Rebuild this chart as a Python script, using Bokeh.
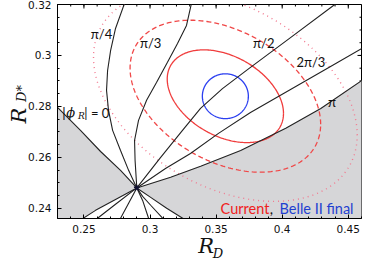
import numpy as np
from bokeh.plotting import figure
from bokeh.models import Range1d, FixedTicker, Label, LinearAxis
from bokeh.embed import file_html
from bokeh.resources import INLINE

# ---------------- data ----------------
x_lim = [0.23, 0.46]
y_lim = [0.236, 0.32]
x_ticks = [0.25, 0.30, 0.35, 0.40, 0.45]
x_tick_labels = ["0.25", "0.3", "0.35", "0.4", "0.45"]
y_ticks = [0.24, 0.26, 0.28, 0.30, 0.32]
y_tick_labels = ["0.24", "0.26", "0.28", "0.3", "0.32"]

current_center = [0.357, 0.284]
current_sigma = [0.029, 0.012]
current_rho = -0.37
contour_dchi2 = [2.30, 6.18, 11.83]
belle2_half = [0.0174, 0.0088]

sm_point = [0.290, 0.248]

# branches of the |phi_R| curves, read outward from the SM point
phi0_up_x = [0.2777, 0.2626, 0.2474, 0.2300, 0.2285]
phi0_up_y = [0.2549, 0.2623, 0.2706, 0.2796, 0.2804]
phi0_dn_x = [0.3005, 0.3126, 0.3247, 0.3275]
phi0_dn_y = [0.2443, 0.2400, 0.2361, 0.2350]

pi4_up_x = [0.2838, 0.2777, 0.2717, 0.2686, 0.2671, 0.2679, 0.2702, 0.2739, 0.2815]
pi4_up_y = [0.2549, 0.2627, 0.2706, 0.2784, 0.2863, 0.2941, 0.3020, 0.3106, 0.3216]
pi4_dn_x = [0.2944, 0.3005, 0.3095, 0.3105]
pi4_dn_y = [0.2447, 0.2412, 0.2361, 0.2350]

pi3_up_x = [0.2887, 0.2883, 0.2913, 0.2974, 0.3049, 0.3132, 0.3208, 0.3276, 0.3322]
pi3_up_y = [0.2588, 0.2667, 0.2745, 0.2824, 0.2894, 0.2973, 0.3047, 0.3118, 0.3224]
pi3_dn_x = [0.2944, 0.2989, 0.2995]
pi3_dn_y = [0.2431, 0.2361, 0.2350]

pi2_up_x = [0.3079, 0.3238, 0.3382, 0.3548, 0.3760, 0.4063, 0.4388, 0.4449]
pi2_up_y = [0.2599, 0.2701, 0.2792, 0.2870, 0.2953, 0.3070, 0.3196, 0.3220]
pi2_dn_x = [0.2838, 0.2777, 0.2765]
pi2_dn_y = [0.2420, 0.2361, 0.2350]

tpi3_up_x = [0.3117, 0.3306, 0.3518, 0.3760, 0.4063, 0.4366, 0.4615]
tpi3_up_y = [0.2556, 0.2615, 0.2694, 0.2776, 0.2866, 0.2957, 0.3031]
tpi3_dn_x = [0.2739, 0.2603, 0.2580]
tpi3_dn_y = [0.2416, 0.2361, 0.2350]

pi_up_x = [0.3156, 0.3383, 0.3686, 0.4027, 0.4292, 0.4620]
pi_up_y = [0.2522, 0.2565, 0.2627, 0.2714, 0.2792, 0.2908]
pi_dn_x = [0.2739, 0.2588, 0.2459]
pi_dn_y = [0.2435, 0.2392, 0.2349]

curve_labels = ["π/4", "π/3", "π/2", "2π/3", "π"]
curve_label_x = [0.2633, 0.3005, 0.3861, 0.4217, 0.4376]
curve_label_y = [0.3086, 0.3047, 0.3047, 0.2973, 0.2816]

# axis-title anchor positions (data)
x_title_R = 0.3424
x_title_D = 0.3514
y_title_R = 0.2764
y_title_D = 0.2851

# ---------------- figure ----------------
p = figure(frame_width=304, frame_height=214, x_range=Range1d(*x_lim), y_range=Range1d(*y_lim),
           output_backend="svg", toolbar_location=None,
           min_border_left=57, min_border_right=11, min_border_top=4, min_border_bottom=36)
p.xgrid.visible = False
p.ygrid.visible = False
p.outline_line_color = "black"
p.outline_line_width = 1
p.background_fill_color = "white"
p.border_fill_color = "white"

x_minor = [round(v, 3) for v in np.arange(0.23, 0.4601, 0.01)]
y_minor = [round(v, 3) for v in np.arange(0.235, 0.3201, 0.005)]


def style_axis(ax, ticks, minor, labels):
    ax.ticker = FixedTicker(ticks=ticks, minor_ticks=minor)
    ax.major_label_overrides = {t: l for t, l in zip(ticks, labels)}
    ax.axis_line_color = "black"
    ax.major_tick_line_color = "black"
    ax.minor_tick_line_color = "black"
    ax.major_tick_in = 4
    ax.major_tick_out = 0
    ax.minor_tick_in = 2
    ax.minor_tick_out = 0
    ax.axis_label = None
    ax.major_label_text_font = "DejaVu Sans"
    ax.major_label_text_font_size = "10.5px"
    ax.major_label_text_color = "#111111"
    ax.major_label_standoff = 6


style_axis(p.xaxis[0], x_ticks, x_minor, x_tick_labels)
style_axis(p.yaxis[0], y_ticks, y_minor, y_tick_labels)


def title_axis(pos, text, size, standoff, orientation="horizontal"):
    ax = LinearAxis(ticker=FixedTicker(ticks=[pos], minor_ticks=[]),
                    major_label_overrides={pos: text},
                    axis_line_color=None, major_tick_line_color=None, minor_tick_line_color=None,
                    major_tick_in=0, major_tick_out=0, axis_label=None,
                    major_label_standoff=standoff, major_label_orientation=orientation,
                    major_label_text_font="DejaVu Serif", major_label_text_font_style="italic",
                    major_label_text_font_size=size, major_label_text_color="#111111")
    return ax


# x title  R_D
p.add_layout(title_axis(x_title_R, "R", "21px", -2), "below")
p.add_layout(title_axis(x_title_D, "D", "13px", -15), "below")
# y title  R_{D*}
p.add_layout(title_axis(y_title_D, "D*", "13px", -4, "parallel"), "left")
p.add_layout(title_axis(y_title_R, "R", "21px", -20, "parallel"), "left")

# mirrored ticks on the top and right edges
p.ray(x=x_ticks, y=[y_lim[1]] * len(x_ticks), length=4, length_units="screen",
      angle=-np.pi / 2, line_color="black", line_width=1)
p.ray(x=x_minor, y=[y_lim[1]] * len(x_minor), length=2, length_units="screen",
      angle=-np.pi / 2, line_color="black", line_width=1)
p.ray(x=[x_lim[1]] * len(y_ticks), y=y_ticks, length=4, length_units="screen",
      angle=np.pi, line_color="black", line_width=1)
p.ray(x=[x_lim[1]] * len(y_minor), y=y_minor, length=2, length_units="screen",
      angle=np.pi, line_color="black", line_width=1)

# ---------------- gray excluded region ----------------
px0, py0 = sm_point
left_x = [x_lim[0] - 0.002] + list(reversed(phi0_up_x)) + [px0] + pi_dn_x + [x_lim[0] - 0.002]
left_y = [phi0_up_y[-1]] + list(reversed(phi0_up_y)) + [py0] + pi_dn_y + [y_lim[0] - 0.002]
right_x = [px0] + pi_up_x + [x_lim[1] + 0.002, x_lim[1] + 0.002] + list(reversed(phi0_dn_x))
right_y = [py0] + pi_up_y + [pi_up_y[-1], y_lim[0] - 0.002] + list(reversed(phi0_dn_y))
p.patch(left_x, left_y, fill_color="#d6d6d8", line_color=None)
p.patch(right_x, right_y, fill_color="#d6d6d8", line_color=None)

# ---------------- current contours ----------------
t = np.linspace(0, 2 * np.pi, 300)
sx, sy = current_sigma
cx, cy = current_center
styles = [dict(line_color="#f03c3c", line_width=1.3, line_dash="solid"),
          dict(line_color="#f04848", line_width=1.3, line_dash="5 3"),
          dict(line_color="#f27a90", line_width=1.4, line_dash="1 4")]
for k2, st in zip(contour_dchi2, styles):
    k = np.sqrt(k2)
    ex = cx + k * sx * np.cos(t)
    ey = cy + k * sy * (current_rho * np.cos(t) + np.sqrt(1 - current_rho ** 2) * np.sin(t))
    p.line(ex, ey, **st)

bx = cx + belle2_half[0] * np.cos(t)
by = cy + belle2_half[1] * np.sin(t)
p.line(bx, by, line_color="#2b3ff0", line_width=1.3)

# ---------------- phase curves ----------------
branches = [(phi0_up_x, phi0_up_y, phi0_dn_x, phi0_dn_y),
            (pi4_up_x, pi4_up_y, pi4_dn_x, pi4_dn_y),
            (pi3_up_x, pi3_up_y, pi3_dn_x, pi3_dn_y),
            (pi2_up_x, pi2_up_y, pi2_dn_x, pi2_dn_y),
            (tpi3_up_x, tpi3_up_y, tpi3_dn_x, tpi3_dn_y),
            (pi_up_x, pi_up_y, pi_dn_x, pi_dn_y)]
for ux, uy, dx, dy in branches:
    xs = list(reversed(dx)) + [px0] + ux
    ys = list(reversed(dy)) + [py0] + uy
    p.line(xs, ys, line_color="#222222", line_width=1.1)

p.scatter([px0], [py0], marker="star", size=6, color="#111133")

# ---------------- text ----------------
for txt, lx, ly in zip(curve_labels, curve_label_x, curve_label_y):
    p.add_layout(Label(x=lx, y=ly, text=txt, text_align="center", text_baseline="middle",
                       text_font="Lato", text_font_size="13px", text_color="#111111"))

p.add_layout(Label(x=0.2333, y=0.2776, text="|ϕ", text_font="DejaVu Serif", text_font_style="italic",
                   text_font_size="13px", text_color="#111111", text_baseline="alphabetic"))
p.add_layout(Label(x=0.2456, y=0.2764, text="R", text_font="DejaVu Serif", text_font_style="italic",
                   text_font_size="9px", text_color="#111111", text_baseline="alphabetic"))
p.add_layout(Label(x=0.2503, y=0.2776, text="| = 0", text_font="Lato",
                   text_font_size="13px", text_color="#111111", text_baseline="alphabetic"))

# legend text
leg_y = 0.2399
p.add_layout(Label(x=0.3903, y=leg_y, text="Current", text_align="right", text_font="Lato",
                   text_font_size="14.5px", text_color="#f02020", text_baseline="alphabetic"))
p.add_layout(Label(x=0.3905, y=leg_y, text=",", text_align="left", text_font="Lato",
                   text_font_size="14.5px", text_color="#111111", text_baseline="alphabetic"))
p.add_layout(Label(x=0.3980, y=leg_y, text="Belle II final", text_align="left", text_font="Lato",
                   text_font_size="14.5px", text_color="#1f3fd0", text_baseline="alphabetic"))

open("out.html", "w").write(file_html(p, INLINE))
